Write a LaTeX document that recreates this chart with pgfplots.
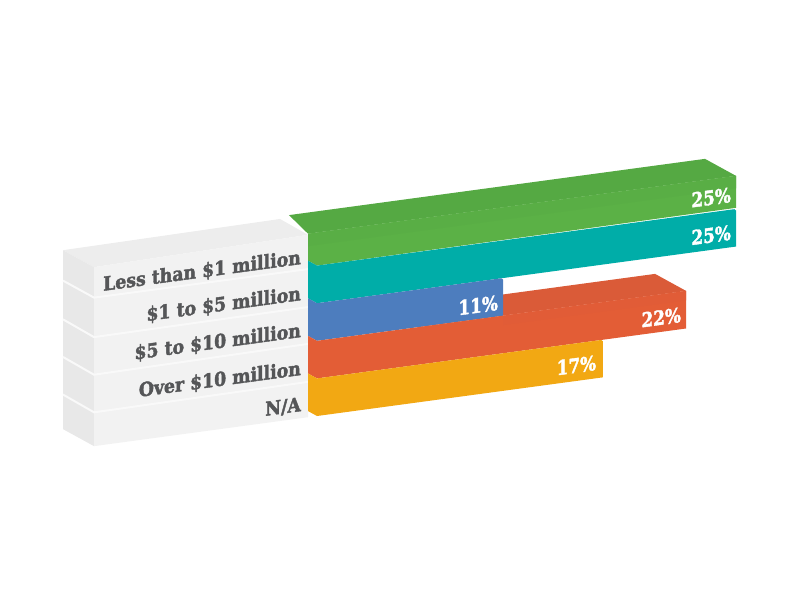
\documentclass[border=0pt]{standalone}
\usepackage{pgfplots}
\pgfplotsset{compat=1.18}
\usepackage{fontspec}
\setmainfont{DejaVu Serif}
\newfontfamily\slab{DejaVu Serif}[FakeStretch=0.9,FakeBold=2]
\newfontfamily\slabn{DejaVu Serif}[FakeStretch=0.84,FakeBold=2]
\definecolor{gFront}{HTML}{5BB146}
\definecolor{gTop}{HTML}{55A943}
\definecolor{gBand}{HTML}{59AE45}
\definecolor{teal1}{HTML}{00ADA8}
\definecolor{blue1}{HTML}{4D7DBE}
\definecolor{oFront}{HTML}{E35D36}
\definecolor{oTop}{HTML}{DA5B38}
\definecolor{oBand}{HTML}{E15C37}
\definecolor{yel}{HTML}{F2A813}
\definecolor{wFront}{HTML}{F2F2F2}
\definecolor{wSide}{HTML}{E8E8E8}
\definecolor{wTop}{HTML}{EDEDED}
\definecolor{seam}{HTML}{F9F9F9}
\definecolor{txt}{HTML}{555658}
\tikzset{
  rowlab/.style={anchor=base east,yslant=0.1355,transform shape,text=txt,font=\slab\bfseries\fontsize{19.2}{19.2}\selectfont,inner sep=0pt},
  pctlab/.style={anchor=base east,yslant=0.1355,transform shape,text=white,font=\slabn\bfseries\fontsize{20}{20}\selectfont,inner sep=0pt},
}
\begin{document}
\begin{tikzpicture}
\useasboundingbox (-320pt,-190.4pt) rectangle (480pt,415.6pt);
\begin{axis}[
    anchor=origin, at={(0pt,0pt)},
    x={(16.64pt,2.25pt)}, y={(-31pt,17pt)}, z={(0pt,37.6pt)},
    xmin=-15, xmax=26, ymin=0, ymax=1, zmin=0, zmax=5,
    hide axis, clip=false, no markers,
    every axis plot/.append style={draw=none,forget plot},
]
% white label block: top, left side, front
\addplot3[fill=wTop] coordinates {(-13.58,1,4.76) (-13.58,0,4.76) (-0.72,0,4.85) (-0.54,1,4.81)} -- cycle;
\addplot3[fill=wSide] coordinates {(-13.58,1,4.76) (-13.58,0,4.76) (-13.58,0,0) (-13.58,1,0)} -- cycle;
\addplot3[fill=wFront] coordinates {(-13.58,0,4.76) (-0.72,0,4.85) (-0.72,0,0) (-13.58,0,0)} -- cycle;
% seams between the slabs
\addplot3[draw=seam,line width=2pt] coordinates {(-13.58,1,3.95) (-13.58,0,3.95) (-0.72,0,3.94)};
\addplot3[draw=seam,line width=2pt] coordinates {(-13.58,1,2.92) (-13.58,0,2.9) (-0.72,0,2.93)};
\addplot3[draw=seam,line width=2pt] coordinates {(-13.58,1,1.92) (-13.58,0,1.9) (-0.72,0,1.95)};
\addplot3[draw=seam,line width=2pt] coordinates {(-13.58,1,0.92) (-13.58,0,0.9) (-0.72,0,0.94)};
% green
\addplot3[fill=gTop] coordinates {(-0.72,0,4.88) (25,0,4.88) (25,1,4.88) (0,1,4.88)} -- cycle;
\addplot3[fill=gFront] coordinates {(-0.72,0,4.88) (25,0,4.88) (25,0,4.03) (-0.18,0,4) (-0.18,0.29,4)} -- cycle;
\addplot3[fill=gBand] coordinates {(-0.72,0,4.88) (25,0,4.88) (25,0,4.55) (-0.72,0,4.55)} -- cycle;
% teal
\addplot3[fill=teal1] coordinates {(-0.18,0.29,4) (-0.18,0,4) (24.9,0,4) (25,0,3.96) (25,0,3) (-0.18,0,3) (-0.18,0.29,3)} -- cycle;
% orange top, behind the blue bar
\addplot3[fill=oTop] coordinates {(6,0,2) (22,0,2) (22,1,2) (6,1,2)} -- cycle;
% blue
\addplot3[fill=blue1] coordinates {(-0.18,0.29,3) (-0.18,0,3) (10.9,0,3) (11,0,2.96) (11,0,2) (-0.18,0,2) (-0.18,0.29,2)} -- cycle;
% orange
\addplot3[fill=oFront] coordinates {(-0.18,0.29,2) (-0.18,0,2) (22,0,2) (22,0,1) (-0.18,0,1) (-0.18,0.29,1)} -- cycle;
\addplot3[fill=oBand] coordinates {(11,0,2) (22,0,2) (22,0,1.75) (11,0,1.75)} -- cycle;
% yellow
\addplot3[fill=yel] coordinates {(-0.18,0.29,1) (-0.18,0,1) (16.9,0,1) (17,0,0.96) (17,0,0) (-0.18,0,0) (-0.18,0.29,0)} -- cycle;

\node[rowlab] at (axis cs:-1.14,0,4.1) {Less than \$1 million};
\node[rowlab] at (axis cs:-1.14,0,3.14) {\$1 to \$5 million};
\node[rowlab] at (axis cs:-1.14,0,2.16) {\$5 to \$10 million};
\node[rowlab] at (axis cs:-1.14,0,1.15) {Over \$10 million};
\node[rowlab] at (axis cs:-1.14,0,0.19) {N/A};

\node[pctlab] at (axis cs:24.7,0,4.2) {25\%};
\node[pctlab] at (axis cs:24.7,0,3.2) {25\%};
\node[pctlab] at (axis cs:10.7,0,2.17) {11\%};
\node[pctlab] at (axis cs:21.7,0,1.19) {22\%};
\node[pctlab] at (axis cs:16.6,0,0.22) {17\%};
\end{axis}
\end{tikzpicture}
\end{document}
